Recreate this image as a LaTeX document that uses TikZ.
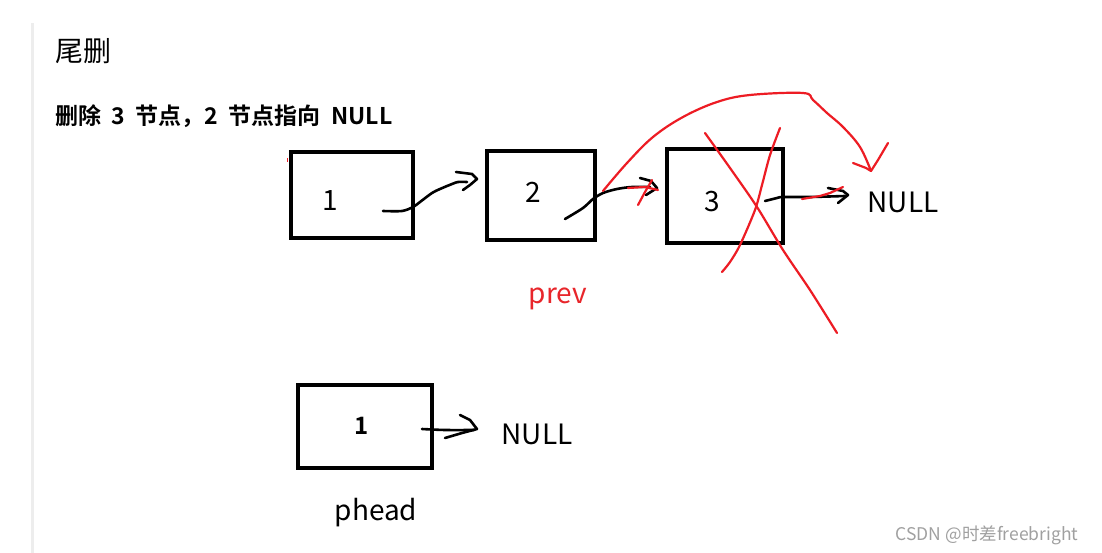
\documentclass[tikz,border=0pt]{standalone}
\usepackage{fontspec}
\setmainfont{Noto Sans CJK SC}
\newfontfamily\cjkb{Noto Sans CJK SC Bold}
\definecolor{penred}{HTML}{ED1C24}
\definecolor{txtred}{HTML}{E8262B}
\definecolor{barg}{HTML}{EDEDED}
\definecolor{wm}{HTML}{A0A0A0}
\newcommand{\wsp}{\hspace{10.5pt}}
\begin{document}
\begin{tikzpicture}[x=1pt,y=-1pt,
  box/.style={draw=black,line width=4pt,minimum width=#1},
  hand/.style={draw=black,line width=2.6pt,line cap=round,line join=round},
  redhand/.style={draw=penred,line width=2.2pt,line cap=round,line join=round},
  lbl/.style={inner sep=0pt,anchor=base,font=\fontsize{28}{30}\selectfont},
  ]
\useasboundingbox[fill=white] (0,0) rectangle (1102,553);
\fill[barg] (31,23) rectangle (34,553);

% headings
\node[inner sep=0pt,anchor=base west,font=\fontsize{28}{30}\selectfont] (title) at (55,62) {尾删};
\node[inner sep=0pt,anchor=base west,font=\cjkb\fontsize{23}{25}\selectfont] (sub) at (55,125) {删除\wsp{}3\wsp{}节点，2\wsp{}节点指向\wsp{}NULL};

% boxes
\node[box=122pt,minimum height=86pt] (b1) at (352,195) {};
\node[box=108pt,minimum height=89pt] (b2) at (541,195.5) {};
\node[box=116pt,minimum height=94pt] (b3) at (725,196) {};
\node[box=134pt,minimum height=83pt] (b4) at (365,426.5) {};

% labels
\node[lbl] (n1) at (330,211) {1};
\node[lbl] (n2) at (533,203) {2};
\node[lbl] (n3) at (712,212) {3};
\node[lbl] (null1) at (903,213) {NULL};
\node[lbl,text=txtred] (prev) at (558,303) {prev};
\node[inner sep=0pt,anchor=base,font=\cjkb\fontsize{24}{26}\selectfont] (n4) at (362,434) {1};
\node[lbl] (null2) at (537,444) {NULL};
\node[lbl] (phead) at (376,520) {phead};
\node[inner sep=0pt,anchor=base,text=wm,font=\fontsize{17.5}{19}\selectfont] (wmk) at (987,540) {CSDN @时差freebright};

% coordinates for connectors
\coordinate (a1s) at (383,211);
\coordinate (a1e) at (467,182);
\coordinate (a2s) at (565,219);
\coordinate (a2e) at (650,187);
\coordinate (a3s) at (765,201);
\coordinate (a3e) at (845,196);
\coordinate (a4s) at (422,429);
\coordinate (a4e) at (474,430);
\coordinate (rs) at (603,191);
\coordinate (re) at (871,171);

% arrow 1 -> 2
\draw[hand] plot[smooth,tension=0.5] coordinates {(a1s) (402,211) (413,207) (420,202) (432,193) (440,189) (452,184) (458,182) (a1e)};
\draw[hand] (456,172) -- (472,174) -- (477,179) -- (470,185) -- (463,190);
% arrow 2 -> 3
\draw[hand] plot[smooth,tension=0.5] coordinates {(a2s) (583,208) (593,199) (603,193) (617,189) (632,187) (a2e)};
\draw[hand] (640,178) -- (651,181) -- (657,188) -- (646,195);
% arrow 3 -> NULL
\draw[hand] plot[smooth,tension=0.5] coordinates {(a3s) (777,198) (783,197) (810,197) (a3e)};
\draw[hand] (828,188) -- (843,191) -- (848,195) -- (838,203);
% arrow 1 -> NULL (bottom)
\draw[hand] plot[smooth,tension=0.5] coordinates {(a4s) (445,430) (a4e)};
\draw[hand] (460,415) -- (470,420) -- (477,429) -- (462,433) -- (445,438);

% red strokes
\draw[redhand] plot[smooth,tension=0.6] coordinates {(rs) (627,163) (653,137) (683,117) (717,102) (750,95) (803,93) (813,100) (827,113) (843,127) (860,147) (re)};
\draw[redhand] (853,163) -- (866,168) -- (re) -- (878,160) -- (888,143);
\draw[redhand] (628,188) -- (645,187) -- (658,190);
\draw[redhand] (652,180) -- (645,192) -- (638,205);
\draw[redhand] (802,199) -- (820,196) -- (830,193) -- (843,187);
\draw[redhand] plot[smooth,tension=0.5] coordinates {(705,133) (730,168) (757,207) (783,250) (810,290) (837,333)};
\draw[redhand] plot[smooth,tension=0.5] coordinates {(780,128) (770,155) (762,185) (755,210) (740,245) (730,262) (722,272)};
\draw[penred,line width=1pt] (287,158) -- (287,162);
\end{tikzpicture}
\end{document}
